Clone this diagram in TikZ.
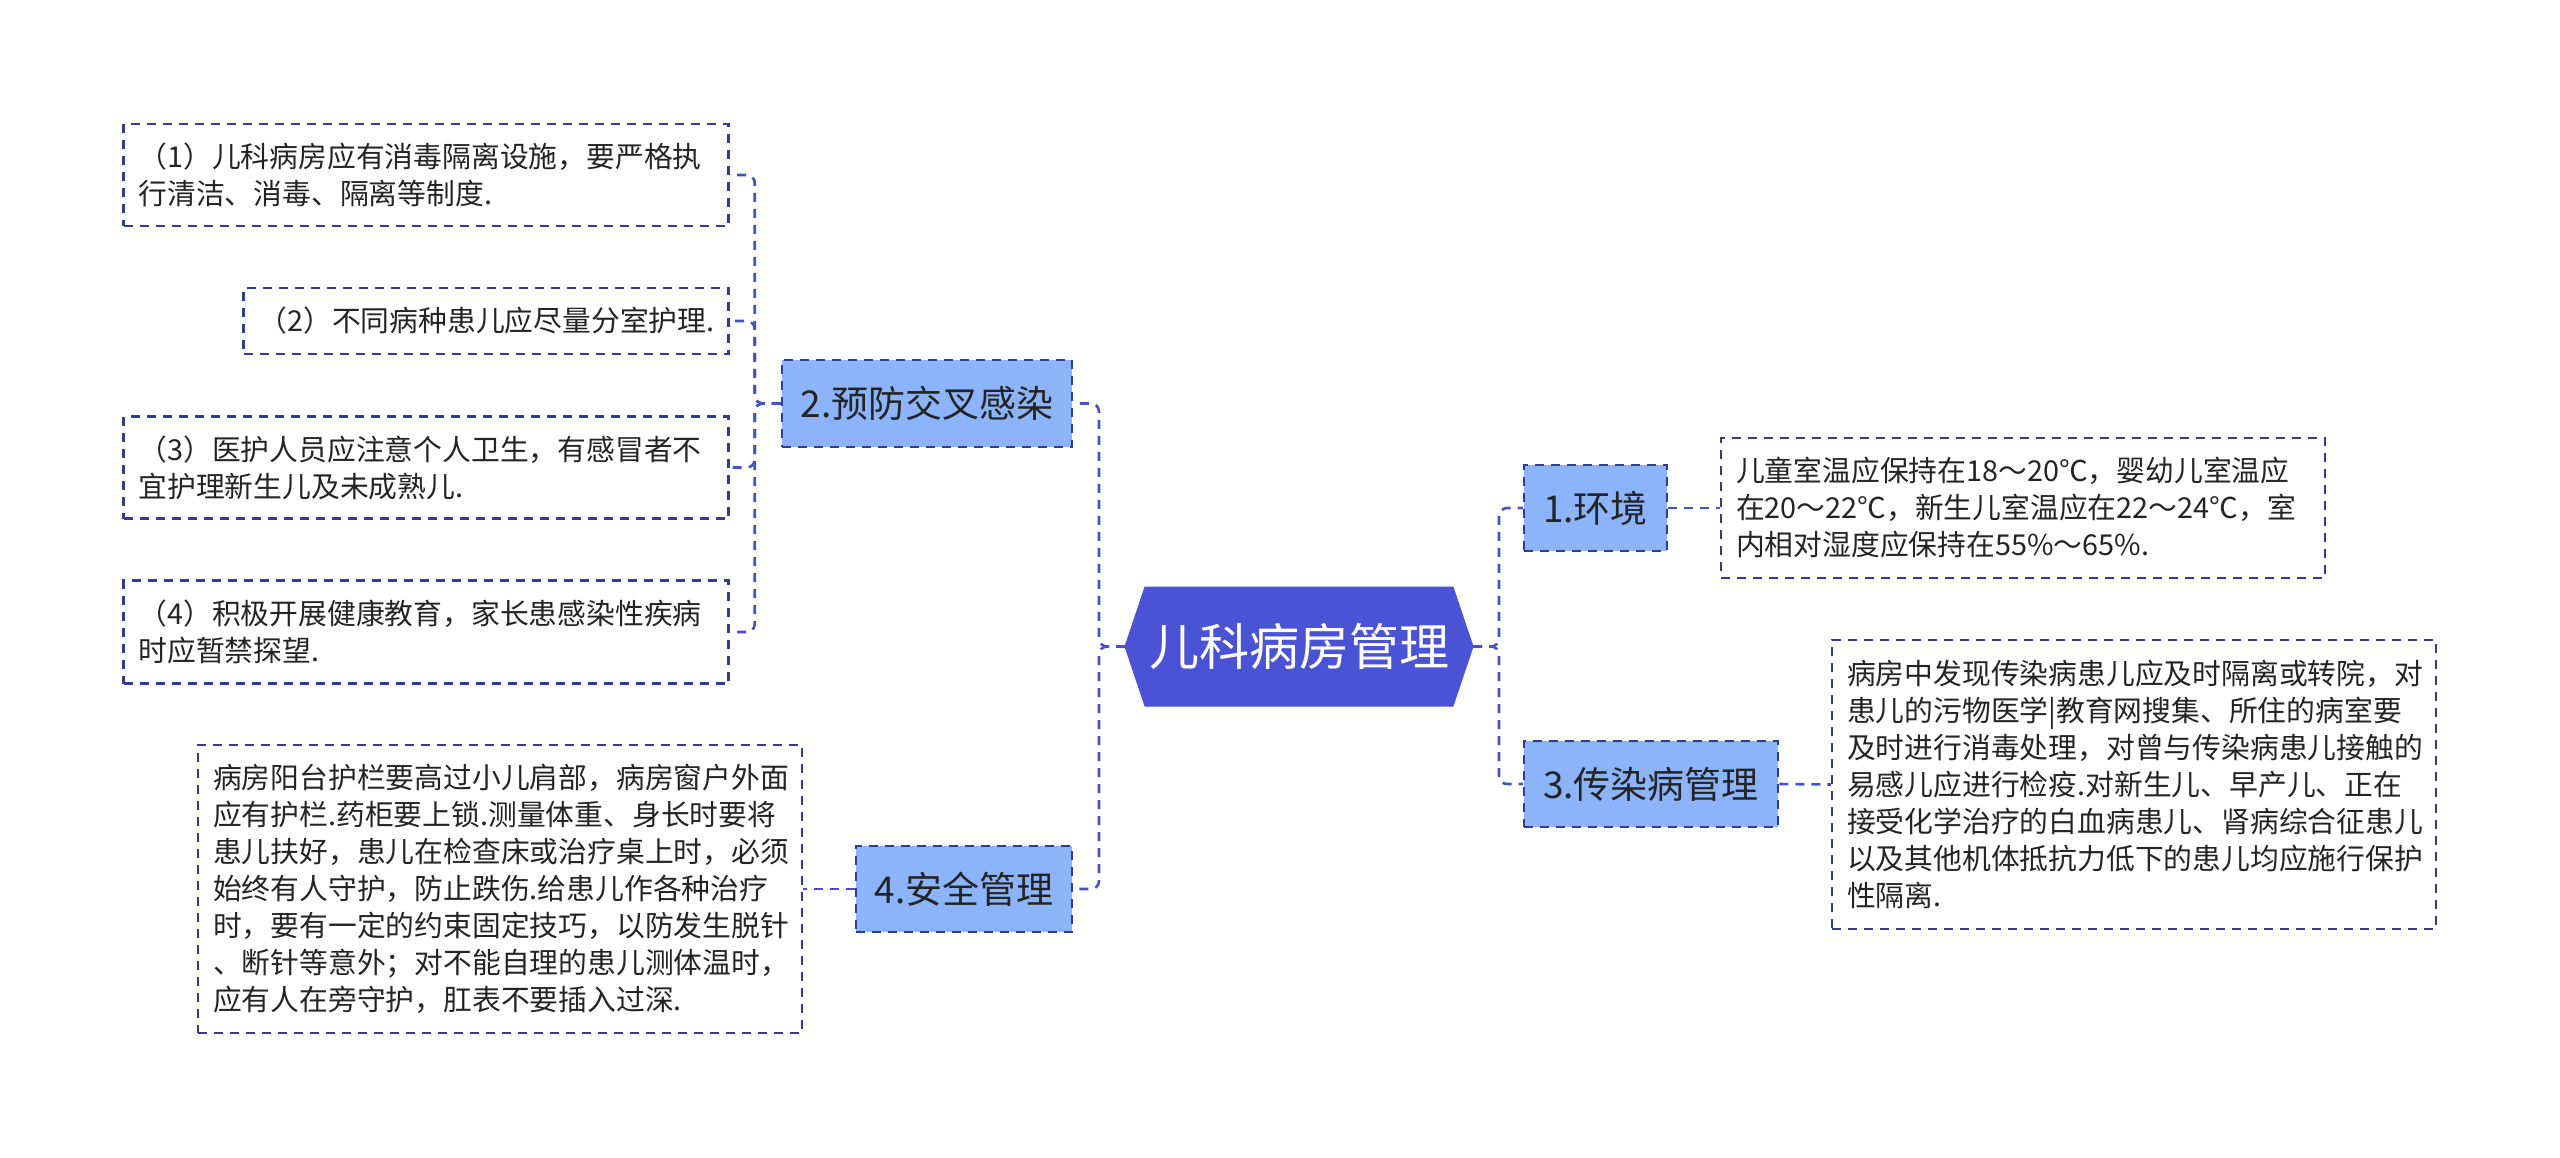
\documentclass[tikz,border=0pt]{standalone}
\usepackage{fontspec}
\setmainfont{Noto Sans CJK SC}
\definecolor{rootblue}{RGB}{74,82,214}
\definecolor{lonefill}{RGB}{140,180,250}
\definecolor{boxblue}{RGB}{50,58,152}
\definecolor{lineblue}{RGB}{70,80,200}
\definecolor{txtgray}{RGB}{36,36,36}
\begin{document}
\begin{tikzpicture}[x=1pt,y=-1pt,
  conn/.style={draw=lineblue, line width=2.6pt, dash pattern=on 9pt off 7pt, rounded corners=8pt},
  lonebox/.style={draw=boxblue, fill=lonefill, line width=2.5pt, dash pattern=on 9pt off 7pt,
    font=\fontsize{37}{44}\selectfont, text=txtgray, inner sep=0pt},
  txtbox/.style={draw=boxblue, line width=2.3pt, dash pattern=on 9pt off 7pt,
    font=\fontsize{28.8}{37}\selectfont, text=txtgray, align=left, inner xsep=15pt, inner ysep=0pt},
  rootlabel/.style={font=\fontsize{50}{60}\selectfont, text=white, inner sep=0pt}
]
\fill[white] (0,0) rectangle (2560,1157);
\useasboundingbox (0,0) rectangle (2560,1157);

% root hexagon
\filldraw[draw=rootblue, fill=rootblue, line width=1pt]
  (1125,646.5) -- (1145,587) -- (1453,587) -- (1473,646.5) -- (1453,706) -- (1145,706) -- cycle;
\coordinate (rootW) at (1125,646.5);
\coordinate (rootE) at (1473,646.5);
\node[rootlabel] (root) at (1299,646.5) {儿科病房管理};

% level-1 nodes
\node[lonebox, minimum width=290pt, minimum height=87pt] (b2) at (927,403.5) {2.预防交叉感染};
\node[lonebox, minimum width=216pt, minimum height=86pt] (b4) at (964,889) {4.安全管理};
\node[lonebox, minimum width=143pt, minimum height=86pt] (b1) at (1595.5,508) {1.环境};
\node[lonebox, minimum width=254pt, minimum height=86pt] (b3) at (1651,784) {3.传染病管理};

% text boxes
\node[txtbox, text width=575pt, minimum height=102pt] (p1) at (426,175)
  {（1）儿科病房应有消毒隔离设施，要严格执\\行清洁、消毒、隔离等制度.};
\node[txtbox, text width=455pt, minimum height=66pt] (p2) at (486,321)
  {（2）不同病种患儿应尽量分室护理.};
\node[txtbox, text width=575pt, minimum height=102pt] (p3) at (426,467.5)
  {（3）医护人员应注意个人卫生，有感冒者不\\宜护理新生儿及未成熟儿.};
\node[txtbox, text width=575pt, minimum height=103pt] (p4) at (426,632)
  {（4）积极开展健康教育，家长患感染性疾病\\时应暂禁探望.};
\node[txtbox, text width=574pt, minimum height=140pt] (env) at (2023,508)
  {儿童室温应保持在18～20℃，婴幼儿室温应\\在20～22℃，新生儿室温应在22～24℃，室\\内相对湿度应保持在55\%～65\%.};
\node[txtbox, text width=574pt, minimum height=289pt] (inf) at (2134,784.5)
  {病房中发现传染病患儿应及时隔离或转院，对\\患儿的污物医学|教育网搜集、所住的病室要\\及时进行消毒处理，对曾与传染病患儿接触的\\易感儿应进行检疫.对新生儿、早产儿、正在\\接受化学治疗的白血病患儿、肾病综合征患儿\\以及其他机体抵抗力低下的患儿均应施行保护\\性隔离.};
\node[txtbox, text width=574pt, minimum height=288pt] (saf) at (500,889)
  {病房阳台护栏要高过小儿肩部，病房窗户外面\\应有护栏.药柜要上锁.测量体重、身长时要将\\患儿扶好，患儿在检查床或治疗桌上时，必须\\始终有人守护，防止跌伤.给患儿作各种治疗\\时，要有一定的约束固定技巧，以防发生脱针\\、断针等意外；对不能自理的患儿测体温时，\\应有人在旁守护，肛表不要插入过深.};

% connectors
\draw[conn] (rootE) -- ++(26,0) |- (b1.west);
\draw[conn] (rootE) -- ++(26,0) |- (b3.west);
\draw[conn] (rootW) -- ++(-26,0) |- (b2.east);
\draw[conn] (rootW) -- ++(-26,0) |- (b4.east);
\draw[conn] (b2.west) -- ++(-26,0) |- (p1.east);
\draw[conn] (b2.west) -- ++(-26,0) |- (p2.east);
\draw[conn] (b2.west) -- ++(-26,0) |- (p3.east);
\draw[conn] (b2.west) -- ++(-26,0) |- (p4.east);
\draw[conn] (b1.east) -- (env.west);
\draw[conn] (b3.east) -- (inf.west);
\draw[conn] (b4.west) -- (saf.east);
\end{tikzpicture}
\end{document}
